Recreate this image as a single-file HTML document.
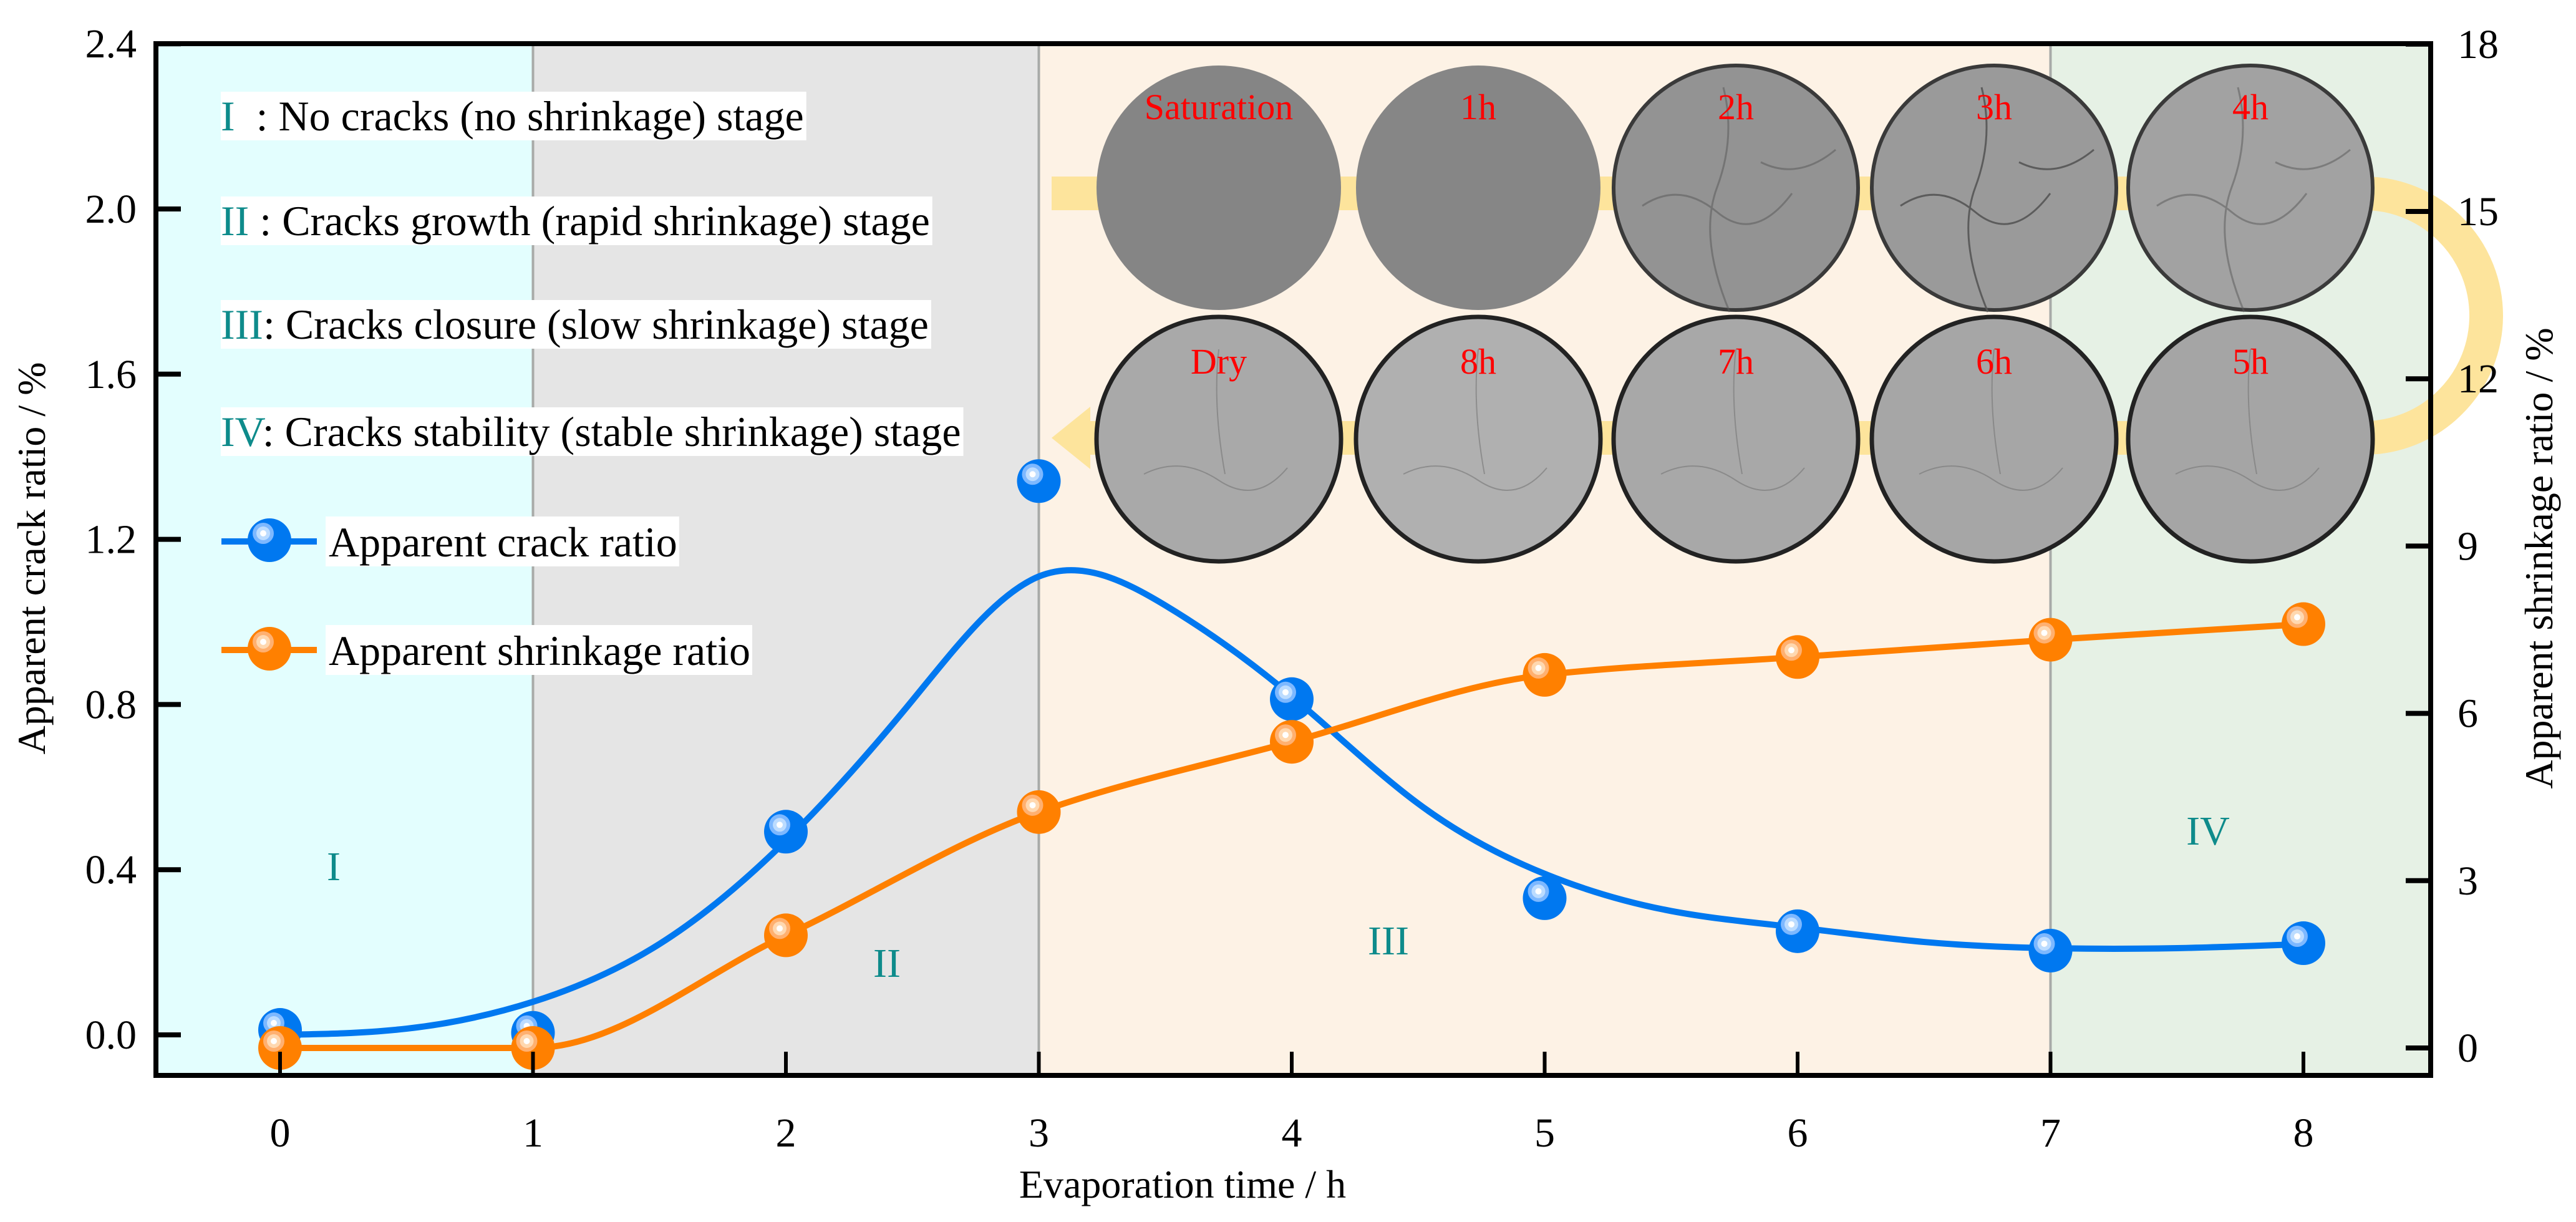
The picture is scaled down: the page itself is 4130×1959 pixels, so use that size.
<!DOCTYPE html>
<html><head><meta charset="utf-8"><style>
html,body{margin:0;padding:0;background:#fff;}
svg{display:block;font-family:"Liberation Serif",serif;}
</style></head><body>
<svg id="chart" width="4130" height="1959" viewBox="0 0 4130 1959" xmlns="http://www.w3.org/2000/svg">
<g id="bg"></g>
<g id="photos"></g>
<g id="legendtxt"></g>
<g id="series"></g>
<g id="axes"></g>
</svg>
<script>
const hours = [0,1,2,3,4,5,6,7,8];
const crackRatio = [0.012,0.005,0.492,1.341,0.813,0.331,0.251,0.204,0.222];
const shrinkRatio = [0.0,0.0,2.02,4.23,5.49,6.69,7.01,7.32,7.6];
const fitHours = [0,0.5,1,1.5,2,2.5,3,3.5,4,4.5,5,5.5,6,6.5,7,7.5,8];
const crackFit = [0,0.015,0.08,0.22,0.47,0.81,1.11,1.04,0.82,0.56,0.39,0.30,0.26,0.225,0.21,0.21,0.22];
const leftTicks = [0.0,0.4,0.8,1.2,1.6,2.0,2.4];
const rightTicks = [0,3,6,9,12,15,18];
const xTicks = [0,1,2,3,4,5,6,7,8];
const stageBounds = [1,3,7];
const stageNames = ["I","II","III","IV"];
const photoLabelsTop = ["Saturation","1h","2h","3h","4h"];
const photoLabelsBottom = ["Dry","8h","7h","6h","5h"];

const NS="http://www.w3.org/2000/svg";
const L=250,R=3897,T=70,B=1724;
const X=v=>449+v*405.5;
const YL=v=>1659-v*662;
const YR=v=>1680-v*89.4;
function mk(tag,attrs,parent){const e=document.createElementNS(NS,tag);for(const k in attrs)e.setAttribute(k,attrs[k]);parent.appendChild(e);return e;}
const bg=document.getElementById('bg'),ph=document.getElementById('photos'),lg=document.getElementById('legendtxt'),se=document.getElementById('series'),ax=document.getElementById('axes');

const cols=["#e3fefe","#e5e5e5","#fdf2e5","#e6f1e5"];
const edges=[L,X(stageBounds[0]),X(stageBounds[1]),X(stageBounds[2]),R];
for(let i=0;i<4;i++){
  const r=mk('rect',{x:edges[i],y:T,width:edges[i+1]-edges[i],height:B-T,fill:cols[i]},bg);
  
  
}
for(let i=0;i<3;i++){
  const l=mk('line',{x1:X(stageBounds[i]),x2:X(stageBounds[i]),y1:T,y2:B,stroke:"#a8aaa8","stroke-width":4},bg);
  
  
}
const stagePos=[[535,1411],[1422,1566],[2226,1530],[3540,1354]];
stageNames.forEach((s,i)=>{
  const t=mk('text',{x:stagePos[i][0],y:stagePos[i][1],"text-anchor":"middle","font-size":66,fill:"#0e8b8b"},bg);
  t.textContent=s;
  
  
});

const band="#fde49c";
mk('path',{d:"M1686 310 H3790 A196 196 0 0 1 3790 702 H1745",fill:"none",stroke:band,"stroke-width":54},ph);
mk('path',{d:"M1686 702 L1748 652 L1748 752 Z",fill:band},ph);
const pcx=[1954,2370,2783,3197,3608];
const fills1=["#858585","#868686","#939393","#9a9a9a","#a2a2a2"];
const fills2=["#a9a9a9","#b0b0b0","#a8a8a8","#a6a6a6","#a5a5a5"];
pcx.forEach((cx,i)=>{
  const c=mk('ellipse',{cx:cx,cy:301,rx:196,ry:196,fill:fills1[i],stroke:i<2?"none":"#3a3a3a","stroke-width":i<2?0:6},ph);
  
  
  if(i>=2){
    mk('path',{d:`M${cx-150} ${330} q60 -40 120 10 t120 -30 M${cx-20} 140 q20 80 -10 160 t20 200 M${cx+40} 260 q60 30 120 -20`,fill:"none",stroke:"#555","stroke-width":3,opacity:i==3?0.9:0.5},ph);
  }
  const t=mk('text',{x:cx,y:191,"text-anchor":"middle","font-size":58,fill:"#ff0000"},ph);
  t.textContent=photoLabelsTop[i];
  
  
  const c2=mk('ellipse',{cx:cx,cy:704,rx:196,ry:196,fill:fills2[i],stroke:"#222","stroke-width":7},ph);
  
  
  mk('path',{d:`M${cx-120} ${760} q60 -30 120 10 t110 -20 M${cx} 560 q-10 90 10 200`,fill:"none",stroke:"#777","stroke-width":2,opacity:0.6},ph);
  const t2=mk('text',{x:cx,y:599,"text-anchor":"middle","font-size":58,fill:"#ff0000"},ph);
  t2.textContent=photoLabelsBottom[i];
  
  
});

const stageDesc=[["I","  : No cracks (no shrinkage) stage",209],["II"," : Cracks growth (rapid shrinkage) stage",377],["III",": Cracks closure (slow shrinkage) stage",543],["IV",": Cracks stability (stable shrinkage) stage",715]];
stageDesc.forEach(d=>{
  const t=mk('text',{x:354,y:d[2],"font-size":68},lg);
  t.setAttribute('style','white-space:pre');
  const a=mk('tspan',{fill:"#0e8b8b"},t);a.textContent=d[0];
  const b=mk('tspan',{fill:"#000"},t);b.textContent=d[1];
  
  
  const bb=t.getBBox();
  const r=document.createElementNS(NS,'rect');
  r.setAttribute('x',bb.x);r.setAttribute('y',d[2]-62);r.setAttribute('width',bb.width+4);r.setAttribute('height',78);r.setAttribute('fill','#fff');
  lg.insertBefore(r,t);
});

function marker(parent,cx,cy,c1,c2,c3,name){
  const g=mk('g',{},parent);
  
  
  mk('circle',{cx:cx,cy:cy,r:35,fill:c1},g);
  mk('circle',{cx:cx-10,cy:cy-11,r:17,fill:c2},g);
  mk('circle',{cx:cx-10,cy:cy-11,r:11,fill:c3},g);
  mk('circle',{cx:cx-10,cy:cy-11,r:5,fill:"#fff"},g);
}
function bez(xs,ys,m,fx,fy){
  let p=`M${fx(xs[0])} ${fy(ys[0])}`;
  for(let i=0;i<xs.length-1;i++){
    const h=xs[i+1]-xs[i];
    p+=` C${fx(xs[i]+h/3)} ${fy(ys[i]+m[i]*h/3)} ${fx(xs[i+1]-h/3)} ${fy(ys[i+1]-m[i+1]*h/3)} ${fx(xs[i+1])} ${fy(ys[i+1])}`;
  }
  return p;
}
function monoPath(xs,ys,fx,fy){
  const n=xs.length,d=[],m=new Array(n);
  for(let i=0;i<n-1;i++)d.push((ys[i+1]-ys[i])/(xs[i+1]-xs[i]));
  m[0]=d[0];m[n-1]=d[n-2];
  for(let i=1;i<n-1;i++){
    if(d[i-1]*d[i]<=0)m[i]=0;
    else{const w1=2*(xs[i+1]-xs[i])+(xs[i]-xs[i-1]),w2=(xs[i+1]-xs[i])+2*(xs[i]-xs[i-1]);m[i]=(w1+w2)/(w1/d[i-1]+w2/d[i]);}
  }
  return bez(xs,ys,m,fx,fy);
}
// natural cubic spline derivatives (uniform or not)
function naturalPath(xs,ys,fx,fy){
  const n=xs.length,h=[],a=[],b=[],c=[],r=[];
  for(let i=0;i<n-1;i++)h.push(xs[i+1]-xs[i]);
  // solve for second derivatives M
  for(let i=0;i<n;i++){
    if(i==0||i==n-1){a[i]=0;b[i]=1;c[i]=0;r[i]=0;}
    else{a[i]=h[i-1];b[i]=2*(h[i-1]+h[i]);c[i]=h[i];r[i]=6*((ys[i+1]-ys[i])/h[i]-(ys[i]-ys[i-1])/h[i-1]);}
  }
  for(let i=1;i<n;i++){const w=a[i]/b[i-1];b[i]-=w*c[i-1];r[i]-=w*r[i-1];}
  const M=new Array(n);M[n-1]=r[n-1]/b[n-1];
  for(let i=n-2;i>=0;i--)M[i]=(r[i]-c[i]*M[i+1])/b[i];
  const m=new Array(n);
  for(let i=0;i<n-1;i++)m[i]=(ys[i+1]-ys[i])/h[i]-h[i]*(2*M[i]+M[i+1])/6;
  m[n-1]=(ys[n-1]-ys[n-2])/h[n-2]+h[n-2]*(M[n-2]+2*M[n-1])/6;
  return bez(xs,ys,m,fx,fy);
}
const blue="#0078f0",orange="#ff8000";
const cl=mk('path',{d:naturalPath(fitHours,crackFit,X,YL),fill:"none",stroke:blue,"stroke-width":10},se);


const sl=mk('path',{d:monoPath(hours,shrinkRatio,X,YR),fill:"none",stroke:orange,"stroke-width":10},se);


hours.forEach((h,i)=>marker(se,X(h),YL(crackRatio[i]),blue,"#7db8ff","#bcdcff","crack-point-"+h));
hours.forEach((h,i)=>marker(se,X(h),YR(shrinkRatio[i]),orange,"#ffb070","#ffd8b0","shrink-point-"+h));

[[868,blue,"#7db8ff","#bcdcff","Apparent crack ratio"],[1042,orange,"#ffb070","#ffd8b0","Apparent shrinkage ratio"]].forEach(e=>{
  mk('line',{x1:355,x2:508,y1:e[0],y2:e[0],stroke:e[1],"stroke-width":10},lg);
  marker(lg,432,e[0]-2,e[1],e[2],e[3],"legend-marker");
  const t=mk('text',{x:527,y:e[0]+24,"font-size":68},lg);
  t.textContent=e[4];
  
  
  const bb=t.getBBox();
  const r=document.createElementNS(NS,'rect');
  r.setAttribute('x',bb.x-5);r.setAttribute('y',e[0]-40);r.setAttribute('width',bb.width+8);r.setAttribute('height',80);r.setAttribute('fill','#fff');
  lg.insertBefore(r,t);
});

const frame=mk('rect',{x:L,y:T,width:R-L,height:B-T,fill:"none",stroke:"#000","stroke-width":8},ax);


leftTicks.forEach(v=>{
  mk('line',{x1:L,x2:L+40,y1:YL(v),y2:YL(v),stroke:"#000","stroke-width":8},ax);
  const t=mk('text',{x:219,y:YL(v)+22,"text-anchor":"end","font-size":66},ax);
  t.textContent=v.toFixed(1);
  
  
});
rightTicks.forEach(v=>{
  mk('line',{x1:R-40,x2:R,y1:YR(v),y2:YR(v),stroke:"#000","stroke-width":8},ax);
  const t=mk('text',{x:3940,y:YR(v)+22,"font-size":66},ax);
  t.textContent=v;
  
  
});
xTicks.forEach(v=>{
  mk('line',{x1:X(v),x2:X(v),y1:B-38,y2:B,stroke:"#000","stroke-width":6},ax);
  const t=mk('text',{x:X(v),y:1838,"text-anchor":"middle","font-size":66},ax);
  t.textContent=v;
  
  
});
const xt=mk('text',{x:1896,y:1920,"text-anchor":"middle","font-size":64},ax);
xt.textContent="Evaporation time / h";


const yt=mk('text',{x:0,y:0,"text-anchor":"middle","font-size":64,transform:"translate(72 895) rotate(-90)"},ax);
yt.textContent="Apparent crack ratio / %";


const yt2=mk('text',{x:0,y:0,"text-anchor":"middle","font-size":64,transform:"translate(4092 895) rotate(-90)"},ax);
yt2.textContent="Apparent shrinkage ratio / %";


</script>
</body></html>
